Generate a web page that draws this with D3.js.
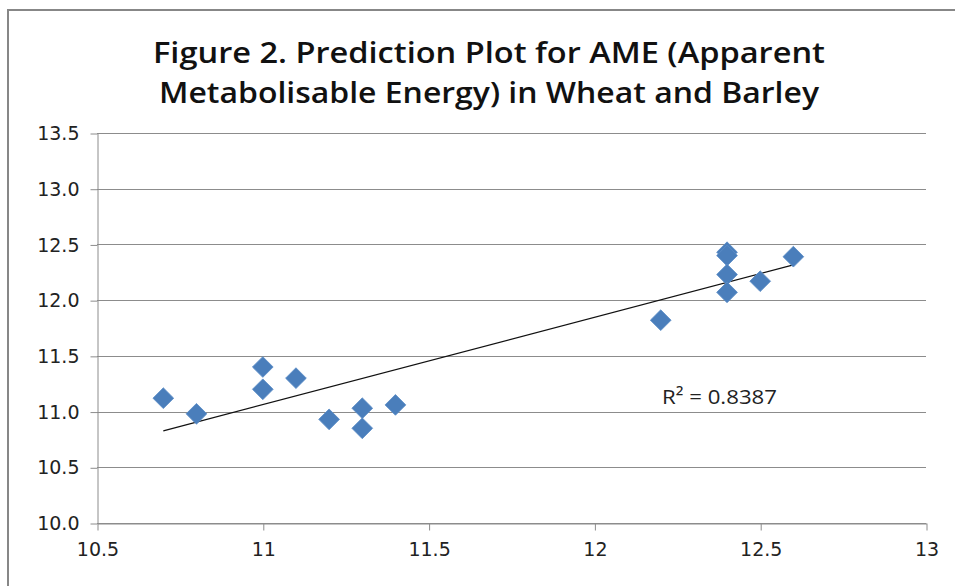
<!DOCTYPE html>
<html>
<head>
<meta charset="utf-8">
<script src="https://cdn.jsdelivr.net/npm/d3@7"></script>
<style>
  body { margin: 0; background: #fff; }
  svg { display: block; }
  .tick text { font-family: "DejaVu Sans", sans-serif; font-size: 19px; fill: #222; }
</style>
</head>
<body>
<div id="wrapper"></div>
<script>
// data
var xVals = [10.7, 10.8, 11.0, 11.0, 11.1, 11.2, 11.3, 11.3, 11.4, 12.2, 12.4, 12.4, 12.4, 12.4, 12.5, 12.6];
var yVals = [11.12, 10.98, 11.40, 11.20, 11.30, 10.93, 11.03, 10.85, 11.06, 11.82, 12.43, 12.40, 12.23, 12.07, 12.17, 12.39];
var xTicks = [10.5, 11, 11.5, 12, 12.5, 13];
var yTicks = [10.0, 10.5, 11.0, 11.5, 12.0, 12.5, 13.0, 13.5];
var titleLines = ["Figure 2. Prediction Plot for AME (Apparent", "Metabolisable Energy) in Wheat and Barley"];
var r2Label = "R\u00b2 = 0.8387";

var width = 955, height = 586;
var margin = { top: 133, right: 29, bottom: 63, left: 97 };

var svg = d3.select("#wrapper").append("svg")
  .attr("width", width)
  .attr("height", height);

// chart frame (only top and left edges are visible)
svg.append("line").attr("x1", 7).attr("x2", width).attr("y1", 10).attr("y2", 10)
  .attr("stroke", "#878787").attr("stroke-width", 2);
svg.append("line").attr("x1", 8).attr("x2", 8).attr("y1", 10).attr("y2", height)
  .attr("stroke", "#878787").attr("stroke-width", 2);

// title
svg.append("g").selectAll("text")
  .data(titleLines)
  .enter()
  .append("text")
  .attr("x", 489)
  .attr("y", (d, i) => 63 + i * 40)
  .attr("text-anchor", "middle")
  .attr("textLength", (d, i) => i == 0 ? 672 : 660)
  .attr("lengthAdjust", "spacingAndGlyphs")
  .style("font-family", "'Open Sans', sans-serif")
  .style("font-weight", "600")
  .style("font-size", "29px")
  .style("fill", "#111")
  .text(d => d);

var x = d3.scaleLinear().domain([10.5, 13]).range([margin.left, width - margin.right]);
var y = d3.scaleLinear().domain([10, 13.5]).range([height - margin.bottom, margin.top]);

// horizontal gridlines
svg.append("g")
  .selectAll("line")
  .data(yTicks)
  .enter()
  .append("line")
  .attr("x1", x(10.5))
  .attr("x2", x(13))
  .attr("y1", d => Math.round(y(d)) + 0.5)
  .attr("y2", d => Math.round(y(d)) + 0.5)
  .attr("stroke", "#8c8c8c")
  .attr("stroke-width", 1);

// y axis
var yAxis = svg.append("g")
  .attr("transform", `translate(${Math.round(x(10.5)) + 0.5},0.5)`)
  .call(d3.axisLeft(y).tickValues(yTicks).tickFormat(d3.format(".1f")).tickSize(7).tickSizeOuter(0).tickPadding(11));
yAxis.selectAll("path, line").attr("stroke", "#8c8c8c");

// x axis
var xAxis = svg.append("g")
  .attr("transform", `translate(0.5,${Math.round(y(10)) + 0.5})`)
  .call(d3.axisBottom(x).tickValues(xTicks).tickFormat(d3.format("")).tickSize(7).tickSizeOuter(0).tickPadding(12));
xAxis.selectAll("path, line").attr("stroke", "#8c8c8c");
xAxis.selectAll("text").attr("dy", "0.71em");

// linear trendline (least squares from the points)
var mx = d3.mean(xVals), my = d3.mean(yVals);
var sxy = d3.sum(xVals, (v, i) => (v - mx) * (yVals[i] - my));
var sxx = d3.sum(xVals, v => (v - mx) * (v - mx));
var slope = sxy / sxx, intercept = my - slope * mx;
var xExt = d3.extent(xVals);
svg.append("path")
  .attr("d", d3.line().x(d => x(d)).y(d => y(intercept + slope * d))(xExt))
  .attr("fill", "none")
  .attr("stroke", "#111")
  .attr("stroke-width", 1.2);

// diamond markers
var pts = xVals.map((v, i) => ({ x: v, y: yVals[i] }));
var diamond = d3.symbol().type(d3.symbolSquare).size(215);
svg.append("g")
  .selectAll("path")
  .data(pts)
  .enter()
  .append("path")
  .attr("d", diamond)
  .attr("transform", d => `translate(${x(d.x)},${y(d.y)}) rotate(45)`)
  .attr("fill", "#4a7ebb")
  .attr("stroke", "#5b8cc6")
  .attr("stroke-width", 0.8);

// R squared label
svg.append("text")
  .attr("x", 662)
  .attr("y", 404)
  .attr("textLength", 115)
  .attr("lengthAdjust", "spacingAndGlyphs")
  .style("font-family", "'Open Sans', sans-serif")
  .style("font-size", "20px")
  .style("fill", "#222")
  .text(r2Label);
</script>
</body>
</html>
